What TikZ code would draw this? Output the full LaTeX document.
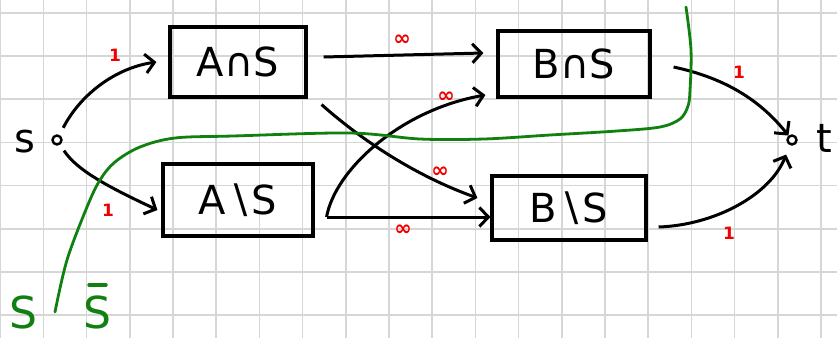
\documentclass[tikz,border=0pt]{standalone}
\usepackage{fontspec}
\setmainfont{DejaVu Sans}
\usetikzlibrary{arrows.meta}
\definecolor{cutgreen}{RGB}{16,128,16}
\definecolor{gridgray}{RGB}{214,214,214}
\definecolor{capred}{RGB}{240,0,0}
\begin{document}
\begin{tikzpicture}[x=1pt,y=-1pt,
  setbox/.style={draw, line width=3.1pt, inner sep=0pt,
    font=\fontsize{40}{40}\selectfont},
  vertex/.style={circle, draw, line width=2.4pt, minimum size=9pt, inner sep=0pt},
  vname/.style={anchor=base, font=\fontsize{40}{40}\selectfont},
  arr/.style={draw, line width=3pt, -{Straight Barb[length=9pt,width=19pt]}},
  cap1/.style={text=capred, font=\fontsize{17}{17}\selectfont\bfseries, inner sep=0pt},
  capinf/.style={text=capred, font=\fontsize{21}{21}\selectfont\bfseries, inner sep=0pt},
  cutline/.style={draw=cutgreen, line width=2.8pt, line cap=round},
  cutname/.style={anchor=base, text=cutgreen, font=\fontsize{44}{44}\selectfont}]

\useasboundingbox (0,0) rectangle (837,338);
\fill[white] (0,0) rectangle (837,338);

% squared paper
\foreach \i in {0,...,19}
  \draw[gridgray, line width=1.6pt] (0.1+43.2*\i,0) -- (0.1+43.2*\i,338);
\foreach \j in {0,...,7}
  \draw[gridgray, line width=1.6pt] (0,12.7+43.2*\j) -- (837,12.7+43.2*\j);

% source and sink
\node[vertex] (s) at (57,140) {};
\node[vertex] (t) at (792,140) {};
\node[vname] (sname) at (25,152) {s};
\node[vname] (tname) at (824,152) {t};

% the four sets
\node[setbox, minimum width=136pt, minimum height=70pt] (a1) at (238,62) {A∩S};
\node[setbox, minimum width=150pt, minimum height=72pt] (a2) at (238,200) {A∖S};
\node[setbox, minimum width=152pt, minimum height=66pt] (b1) at (574,64) {B∩S};
\node[setbox, minimum width=154pt, minimum height=64pt] (b2) at (569,208) {B∖S};

% edges out of s
\draw[arr, shorten <=8pt] (s) .. controls (80,95) and (115,68) .. ([xshift=-12pt]a1.west);
\draw[arr, shorten <=7pt] (s) .. controls (78,172) and (115,190) .. ([xshift=-4pt,yshift=-10pt]a2.west);

% edges between the sets
\draw[arr] ([xshift=16pt,yshift=5pt]a1.east) -- ([xshift=-13pt,yshift=11pt]b1.west);
\draw[arr] ([xshift=14pt,yshift=-6pt]a1.south east) .. controls (350,130) and (405,172) .. ([xshift=-13pt,yshift=10pt]b2.west);
\draw[arr] ([xshift=12pt,yshift=-17pt]a2.east) .. controls (335,170) and (400,110) .. ([xshift=-11pt,yshift=-31pt]b1.west);
\draw[arr] ([xshift=12pt,yshift=-17pt]a2.east) -- ([yshift=-9pt]b2.west);

% edges into t
\draw[arr] ([xshift=22pt,yshift=-3pt]b1.east) .. controls (725,78) and (760,100) .. (t);
\draw[arr, shorten >=10pt] ([xshift=11pt,yshift=-19pt]b2.east) .. controls (715,225) and (770,195) .. (t);

% capacities
\node[cap1] (c1) at (115,55) {1};
\node[cap1] (c2) at (108,210) {1};
\node[capinf] (c3) at (402,40) {∞};
\node[capinf] (c4) at (440,172) {∞};
\node[capinf] (c5) at (446,97) {∞};
\node[capinf] (c6) at (403,230) {∞};
\node[cap1] (c7) at (739,72) {1};
\node[cap1] (c8) at (729,233) {1};

% the cut
\draw[cutline] plot[smooth, tension=0.55] coordinates {
  (55,312) (67,260) (87,207) (100,180) (115,162) (140,147) (175,138)
  (233,136) (350,133) (420,139) (484,139) (550,135) (617,131) (660,127)
  (680,119) (688,106) (690,90) (691,50) (686,7)};
\node[cutname] (cs) at (23,328) {S};
\node[cutname] (cbar) at (97,328) {S};
\draw[cutline, line width=3.5pt] (89,285) -- (106,285);
\end{tikzpicture}
\end{document}
